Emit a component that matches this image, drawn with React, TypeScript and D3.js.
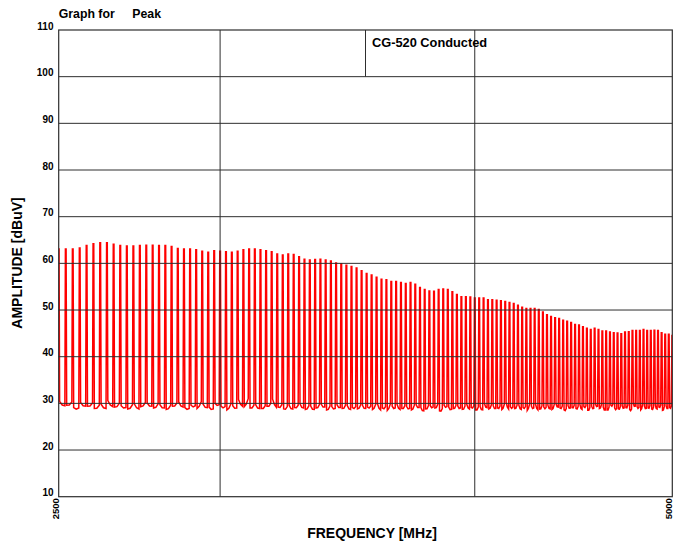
import React from 'react';
import * as d3 from 'd3';

const W = 674;
const H = 543;
const PLOT = { left: 58.7, right: 672.3, top: 30, bottom: 496.7 };

const freqDomain = [2500, 5000];
const freqStart = 2500;
const freqStep = 20;
const ampDomain = [10, 110];
const yTickValues = [10, 20, 30, 40, 50, 60, 70, 80, 90, 100, 110];
const yGridValues = [20, 30, 40, 50, 60, 70, 80, 90, 100];
const xGridValues = [3000, 4000];
const xTickValues = [2500, 5000];
const xTickLabels = ['2500', '5000'];

const titleLeft = 'Graph for';
const titleRight = 'Peak';
const boxLabel = 'CG-520 Conducted';
const xTitle = 'FREQUENCY [MHz]';
const yTitle = 'AMPLITUDE [dBuV]';

// peak amplitude of each harmonic, every 20 MHz from 2500 to 5000 MHz
const peakValues = [
  63.1, 63.1, 63.1, 63.3, 63.8, 64.2, 64.4, 64.4, 64.1, 63.8,
  63.7, 63.7, 63.8, 63.9, 63.9, 63.8, 63.85, 63.6, 63.2, 63.1,
  63.05, 62.9, 62.6, 62.4, 62.7, 62.6, 62.5, 62.4, 62.6, 62.9,
  63.1, 63.05, 62.9, 62.7, 62.5, 62.0, 61.8, 62.0, 61.9, 61.4,
  60.9, 60.7, 60.8, 60.9, 60.7, 60.5, 60.1, 59.9, 59.6, 59.3,
  59.0, 58.4, 57.8, 57.5, 57.0, 56.6, 56.5, 56.1, 56.1, 55.9,
  55.7, 55.9, 55.5, 54.85, 54.4, 54.1, 54.0, 54.4, 54.5, 54.4,
  53.9, 53.35, 52.85, 52.85, 52.8, 52.6, 52.6, 52.6, 52.2, 52.2,
  52.1, 52.0, 51.8, 51.6, 51.4, 51.0, 50.6, 50.3, 50.3, 50.35,
  50.1, 49.6, 49.0, 48.6, 48.35, 48.2, 47.8, 47.6, 47.35, 46.9,
  46.8, 46.4, 46.1, 45.8, 46.1, 45.85, 45.5, 45.5, 45.3, 45.15,
  45.1, 44.9, 45.3, 45.35, 45.6, 45.6, 45.6, 45.8, 45.6, 45.6,
  45.65, 45.6, 45.15, 44.8, 44.8, 44.55,
];

// noise floor between harmonics (two readings per gap)
const floorA = [
  30.4, 29.6, 29.1, 30.2, 29.4, 28.9, 29.8, 30.6, 29.2, 29.5,
  28.8, 29.9, 29.3, 30.1, 29.0, 29.7, 28.7, 29.4, 30.3, 29.1,
  29.6, 28.9, 29.8, 29.2, 30.0, 29.4, 28.6, 29.5, 30.8, 29.3,
  29.0, 29.7, 28.9, 29.4, 30.9, 29.2, 28.8, 29.6, 29.1, 29.9,
  28.7, 29.4, 29.0, 29.8, 28.6, 29.3, 29.7, 28.9, 29.5, 29.1,
  28.8, 29.6, 29.2, 28.7, 29.9, 29.0, 28.5, 29.4, 29.8, 28.9,
  29.3, 28.6, 29.7, 29.1, 28.8, 29.5, 29.0, 28.4, 29.6, 29.2,
  28.9, 29.4, 28.7, 29.8, 29.1, 28.6, 29.3, 29.9, 28.8, 29.5,
  29.0, 28.7, 30.2, 29.3, 28.9, 29.6, 29.1, 28.5, 29.4, 29.8,
  28.8, 29.2, 29.6, 28.7, 29.9, 29.0, 28.6, 29.5, 29.1, 28.9,
  29.7, 29.3, 28.5, 29.4, 29.8, 28.9, 29.2, 28.6, 29.6, 29.0,
  28.8, 29.5, 29.1, 28.7, 29.9, 29.3, 28.6, 29.4, 29.0, 28.8,
  29.6, 29.2, 28.5, 29.5, 29.1,
];
const floorB = [
  29.5, 30.3, 29.0, 29.4, 30.1, 29.6, 28.9, 29.3, 30.0, 29.1,
  29.7, 28.8, 30.2, 29.4, 29.9, 29.0, 29.6, 30.1, 29.2, 28.9,
  29.5, 30.4, 29.1, 28.8, 29.7, 29.3, 29.9, 29.0, 29.4, 31.0,
  29.6, 28.9, 29.5, 30.0, 29.2, 29.7, 29.3, 28.8, 29.6, 29.0,
  29.5, 28.7, 29.8, 29.2, 29.4, 28.9, 29.1, 29.6, 28.7, 29.3,
  29.7, 28.9, 29.4, 29.8, 28.6, 29.3, 29.9, 29.0, 28.7, 29.5,
  28.9, 29.6, 29.1, 28.4, 29.5, 29.2, 29.8, 28.9, 29.3, 28.7,
  29.6, 29.0, 29.4, 28.8, 29.5, 29.2, 28.6, 29.1, 29.7, 28.9,
  29.4, 29.8, 28.8, 29.2, 29.6, 28.7, 29.3, 29.9, 29.0, 28.6,
  29.5, 29.1, 28.8, 29.7, 29.2, 29.4, 28.9, 29.0, 29.6, 29.3,
  28.7, 29.5, 29.1, 28.9, 29.4, 29.7, 28.6, 29.2, 29.8, 28.9,
  29.3, 29.0, 29.6, 28.8, 29.4, 29.1, 29.7, 28.9, 29.5, 29.2,
  28.8, 29.6, 29.3, 28.9, 29.4,
];

const FONT = '"Liberation Sans", Arial, Helvetica, sans-serif';
const LINE = '#2e2e2e';
const TRACE = '#ff0000';

export default function App() {
  const x = d3.scaleLog().domain(freqDomain).range([PLOT.left, PLOT.right]);
  const y = d3.scaleLinear().domain(ampDomain).range([PLOT.bottom, PLOT.top]);

  const pts: [number, number][] = [];
  peakValues.forEach((p, k) => {
    const f = freqStart + k * freqStep;
    const cx = x(f);
    const gap = x(f + freqStep) - cx;
    if (k > 0) pts.push([cx - 0.9, y(floorB[k - 1])]);
    pts.push([cx - 0.35, y(p)], [cx + 0.35, y(p)]);
    if (k < floorA.length) {
      pts.push([cx + 0.9, y(floorA[k])]);
      pts.push([cx + gap * 0.5, y((floorA[k] + floorB[k]) / 2 - 0.3)]);
    }
  });
  const line = d3.line<[number, number]>().x((d) => d[0]).y((d) => d[1]);

  const midX = (PLOT.left + PLOT.right) / 2;
  const plotW = PLOT.right - PLOT.left;
  const plotH = PLOT.bottom - PLOT.top;

  return (
    <svg
      width={W}
      height={H}
      style={{ position: 'absolute', left: 0, top: 0, background: '#fff' }}
      fontFamily={FONT}
      fontWeight="bold"
    >
      <rect x={0} y={0} width={W} height={H} fill="#fff" />
      <defs>
        <clipPath id="plotclip">
          <rect x={PLOT.left} y={PLOT.top} width={plotW} height={plotH} />
        </clipPath>
      </defs>

      <path
        d={line(pts) || ''}
        fill="none"
        stroke={TRACE}
        strokeWidth={1.5}
        strokeLinejoin="miter"
        clipPath="url(#plotclip)"
      />

      {yGridValues.map((v) => (
        <line key={'h' + v} x1={PLOT.left} x2={PLOT.right} y1={y(v)} y2={y(v)} stroke={LINE} strokeWidth={1} />
      ))}
      {xGridValues.map((f) => (
        <line key={'v' + f} x1={x(f)} x2={x(f)} y1={PLOT.top} y2={PLOT.bottom} stroke={LINE} strokeWidth={1} />
      ))}
      <line x1={midX} x2={midX} y1={PLOT.top} y2={y(100)} stroke={LINE} strokeWidth={1} />
      <rect x={PLOT.left} y={PLOT.top} width={plotW} height={plotH} fill="none" stroke={LINE} strokeWidth={1.2} />

      {yTickValues.map((v) => (
        <text key={'yt' + v} x={53.5} y={y(v) - 0.5} textAnchor="end" fontSize={10} fill="#000">
          {v}
        </text>
      ))}
      {xTickValues.map((f, i) => (
        <text
          key={'xt' + f}
          transform={`translate(${x(f)},${PLOT.bottom + 1.5}) rotate(-90)`}
          textAnchor="end"
          fontSize={9.5}
          fill="#000"
        >
          {xTickLabels[i]}
        </text>
      ))}

      <text x={PLOT.left} y={18.3} fontSize={12.3} fill="#000">{titleLeft}</text>
      <text x={132.3} y={18.3} fontSize={12.3} fill="#000">{titleRight}</text>
      <text x={midX + 6.5} y={47.3} fontSize={12.8} fill="#000">{boxLabel}</text>

      <text x={372} y={538} textAnchor="middle" fontSize={14} fill="#000">{xTitle}</text>
      <text transform={`translate(21.5,263) rotate(-90)`} textAnchor="middle" fontSize={14} fill="#000">
        {yTitle}
      </text>
    </svg>
  );
}
